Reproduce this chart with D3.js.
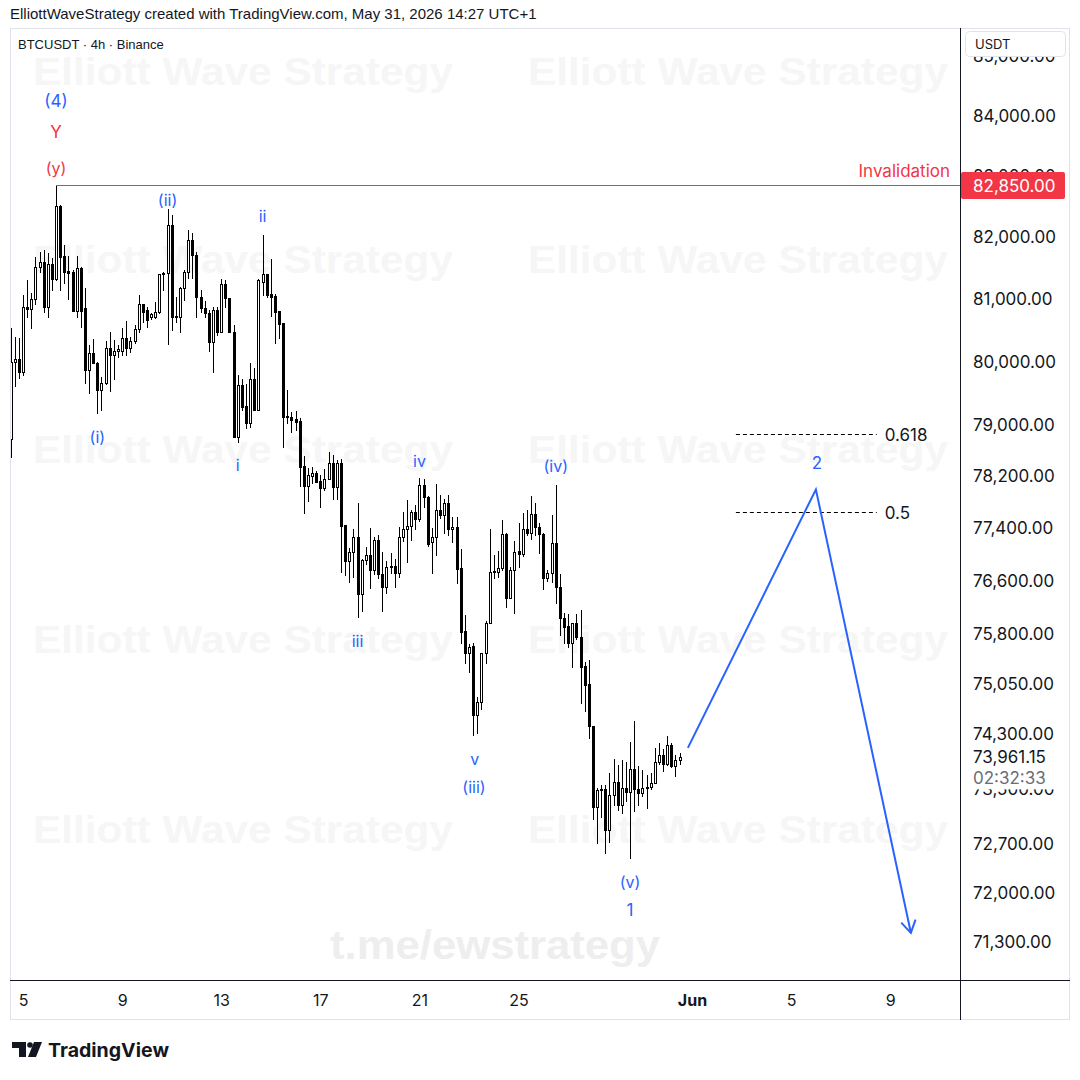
<!DOCTYPE html>
<html><head><meta charset="utf-8">
<script src="https://cdn.jsdelivr.net/npm/d3@7"></script>
<style>
html,body{margin:0;padding:0;background:#fff;}
svg{display:block;font-family:Inter,"Liberation Sans",Arial,sans-serif;}
</style></head><body>
<svg id="chart" width="1080" height="1080"></svg>
<script>
// ---------------- DATA ----------------
const firstCandle = Date.UTC(2026, 4, 4, 12); // May 4 12:00, 4h candles
const opens = [78780,80000,80040,79845,80872,80840,81000,81517,81603,80882,81566,81333,82514,81700,81460,81440,80818,81500,80860,79872,
80137,79988,79556,79662,80217,80110,80180,80180,80377,80217,80334,80520,80925,80830,80722,80722,80802,81404,81420,82203,
80722,80722,81178,81446,81958,81716,81042,80856,80776,80322,80830,80482,81247,81016,80482,78811,79635,79300,79040,79725,
79240,81284,81409,81081,81050,80813,80616,79145,79125,79098,79070,78364,78058,78212,78250,78130,78018,78161,78406,78033,
78406,77451,76905,77043,77263,76394,76916,76992,76763,77221,76697,76500,76825,76825,76713,77263,77385,77435,77655,77540,
78069,77879,77186,77263,77683,77606,77786,77385,77415,76790,75840,75514,75614,74586,74774,75505,75965,76730,76730,76790,
77313,76343,76763,77054,77008,77385,77333,77622,77425,77308,76646,76713,77171,76500,76031,75915,75664,75955,75744,75315,
75045,74423,73233,73484,73494,72904,73411,73597,73262,73509,73460,73787,73494,73436,73509,73523,73582,73900,73998,73861,
74143,73837,73920];
const highs = [80540,80400,80377,81070,81312,81097,81688,81769,81790,81743,81663,82850,82530,81877,81700,81473,81700,81517,81178,80270,
80360,80000,79757,80334,80482,80350,80270,80537,80653,80400,80590,81070,80925,80872,80786,80962,81404,81446,82460,82367,
81042,81194,81473,82121,82067,81769,81150,80978,80830,80882,80882,81323,81312,81016,80590,79793,79730,79650,79988,79900,
81323,82039,81409,81646,81085,80813,80616,79556,79213,79230,79109,78520,78328,78353,78290,78223,78312,78577,78530,78452,
78468,77451,77095,77385,77795,76926,77119,77400,77272,77298,77043,76905,77018,76931,77415,77655,77836,77683,77760,78172,
78156,77900,77400,78084,77915,77848,77915,77580,77570,77080,76081,75644,75654,74857,75514,75995,77385,76992,77058,77524,
77324,76805,77200,77477,77640,77683,77900,77786,77477,77333,76763,77606,78069,76697,76116,76096,75965,76090,76157,75380,
75400,74423,73508,73557,73557,73727,73932,73845,73925,73900,74192,74502,73841,73778,73704,73737,74096,74169,74080,74275,
74169,73993,74018];
const lows = [78500,79610,79740,79793,80722,80537,80925,81446,80802,80722,81150,81312,81150,81258,81000,80818,80722,80562,79662,79504,
79988,79186,79240,79650,79545,79722,80083,80110,80110,80163,80297,80482,80642,80562,80680,80696,80776,81150,80281,80510,
80642,80468,80990,81340,81340,80722,80802,80722,80180,79845,80430,80482,80882,80482,78811,78743,79240,78950,78977,79240,
79240,81070,81040,80733,80307,80377,78655,79040,78900,78925,78058,77632,77826,78104,78120,77725,77992,78156,77848,77854,
76728,76687,76585,76662,76046,76137,76855,76485,76702,76637,76137,76410,76713,76510,76662,77210,76890,77221,77385,77518,
77734,77130,76713,76992,77555,77324,77298,77195,76570,75664,75355,75230,74290,74315,74670,75364,75965,76637,76662,76763,
76200,76343,76107,76815,76977,77298,77240,77298,77020,76470,76600,76585,76267,75779,75664,75604,75305,75714,74760,74650,
74240,73059,72719,73088,72575,72733,73262,73189,73145,73328,72503,73183,73262,73397,73218,73494,73582,73870,73767,73847,
73820,73685,73870];
const closes = [80000,80040,79845,80872,80840,81000,81517,81603,80882,81566,81333,82514,81688,81446,81430,80818,81500,80818,79872,80137,
79988,79556,79662,80217,80110,80174,80200,80377,80217,80334,80520,80925,80802,80670,80760,80802,81404,81420,82203,80722,
80738,81178,81446,81958,81716,81042,80856,80776,80322,80830,80482,81247,81016,80482,78811,79635,79292,79040,79725,79240,
81312,81409,81070,81042,80802,80605,79134,79125,79082,79055,78353,78058,78223,78250,78120,78018,78161,78406,78033,78406,
77442,76905,77043,77263,76394,76916,76992,76763,77221,76697,76500,76805,76805,76713,77263,77385,77435,77655,77540,78069,
77879,77160,77263,77683,77606,77786,77385,77415,76774,75829,75514,75604,74586,74774,75505,75965,76728,76745,76790,77313,
76343,76763,77043,77008,77385,77333,77622,77425,77308,76646,76713,77171,76500,76031,75904,75664,75955,75744,75305,75030,
74423,73233,73484,73494,72904,73411,73597,73262,73509,73460,73787,73494,73436,73509,73523,73582,73900,73998,73861,74143,
73837,73920,73961.15];

const priceTicks = [85000,84000,83000,82000,81000,80000,79000,78200,77400,76600,75800,75050,74300,73500,72700,72000,71300];
const dateTicks = [Date.UTC(2026,4,5),Date.UTC(2026,4,9),Date.UTC(2026,4,13),Date.UTC(2026,4,17),Date.UTC(2026,4,21),
                   Date.UTC(2026,4,25),Date.UTC(2026,5,1),Date.UTC(2026,5,5),Date.UTC(2026,5,9)];
const dateTickLabels = ["5","9","13","17","21","25","Jun","5","9"];

const invalidationPrice = 82850;
const lastPrice = 73961.15;
const countdown = "02:32:33";

// wave labels: text, candle index, price anchor
const waveText  = ["(4)","Y","(y)","(ii)","ii","(i)","i","iv","(iv)","iii","v","(iii)","(v)","1"];
const waveIdx   = [11,11,11,38,61,21,55,99,132,84,112.4,112.2,150,150];
const wavePrice = [84250,83734,83138,82611,82349,78816,78380,78442,78365,75688,73937,73527,72153,71754];
const waveRed   = [false,true,true,false,false,false,false,false,false,false,false,false,false,false];

// projected path (wave 2 up, then down)
const projDates  = [Date.UTC(2026,4,31,20), Date.UTC(2026,5,6,0), Date.UTC(2026,5,9,20)];
const projPrices = [74100, 78000, 71430];
const wave2Label = {text:"2", price:78411};

// fib levels
const fibNames  = ["0.618","0.5"];
const fibPrices = [78862, 77653];
const fibStart = Date.UTC(2026,5,2,18,30), fibEnd = Date.UTC(2026,5,8,11);

// ---------------- DRAW ----------------
const svg = d3.select("#chart");
const BLUE = "#2962ff", RED = "#f23645", INK = "#131722";
const plotL = 10, plotR = 960, plotT = 28, plotB = 980;

const x = d3.scaleUtc().domain([Date.UTC(2026,4,5), Date.UTC(2026,5,1)]).range([23, 692]);
const y = d3.scaleLog().domain([71300, 84000]).range([942, 116]);
const H4 = 4*3600*1000;
const dateOf = i => new Date(firstCandle + i*H4);

svg.append("rect").attr("width",1080).attr("height",1080).attr("fill","#fff");

// header
svg.append("text").attr("x",10).attr("y",13).attr("dominant-baseline","central")
  .attr("font-size",15).attr("fill",INK).attr("font-family","'Liberation Sans',Arial,sans-serif")
  .text("ElliottWaveStrategy created with TradingView.com, May 31, 2026 14:27 UTC+1");

// frame
svg.append("rect").attr("x",10.5).attr("y",28.5).attr("width",1059).attr("height",991)
  .attr("fill","none").attr("stroke","#e0e3eb");

// watermarks
const wmRows = [72,260,450,640,830];
const wmCols = [243,738];
const wm = svg.append("g");
wmRows.forEach(r => wmCols.forEach(c => {
  wm.append("text").attr("x",c).attr("y",r).attr("text-anchor","middle").attr("dominant-baseline","central")
    .attr("font-size",38).attr("font-weight",700).attr("fill","#f6f6f6")
    .attr("textLength",420).attr("lengthAdjust","spacingAndGlyphs")
    .attr("font-family","'Liberation Sans',Arial,sans-serif")
    .text("Elliott Wave Strategy");
}));
wm.append("text").attr("x",495).attr("y",945).attr("text-anchor","middle").attr("dominant-baseline","central")
  .attr("font-size",40).attr("font-weight",700).attr("fill","#eeeeee")
  .attr("textLength",330).attr("lengthAdjust","spacingAndGlyphs")
  .attr("font-family","'Liberation Sans',Arial,sans-serif")
  .text("t.me/ewstrategy");

svg.append("text").attr("x",18).attr("y",44).attr("dominant-baseline","central")
  .attr("font-size",13).attr("fill",INK).attr("font-family","'Liberation Sans',Arial,sans-serif")
  .text("BTCUSDT · 4h · Binance");

// clip
svg.append("clipPath").attr("id","plotclip").append("rect")
  .attr("x",plotL+1).attr("y",plotT+1).attr("width",plotR-plotL-1).attr("height",plotB-plotT-1);
const plot = svg.append("g").attr("clip-path","url(#plotclip)");

// candles
const candles = plot.append("g");
opens.forEach((o,i) => {
  const c = closes[i], h = highs[i], l = lows[i];
  const cx = Math.round(x(dateOf(i)));
  const up = c >= o;
  const top = Math.round(y(Math.max(o,c))), bot = Math.round(y(Math.min(o,c)));
  candles.append("line").attr("x1",cx+0.5).attr("x2",cx+0.5)
    .attr("y1",Math.round(y(h))).attr("y2",Math.round(y(l))+1)
    .attr("stroke","#000").attr("stroke-width",1);
  if (up) {
    const hh = Math.max(bot-top,1);
    candles.append("rect").attr("x",cx-0.5).attr("y",top+0.5).attr("width",2).attr("height",hh)
      .attr("fill","#fff").attr("stroke","#000").attr("stroke-width",1);
  } else {
    candles.append("rect").attr("x",cx-1).attr("y",top).attr("width",3).attr("height",Math.max(bot-top+1,1))
      .attr("fill","#000");
  }
});

// invalidation line (drawn over candles)
const invY = Math.round(y(invalidationPrice));
plot.append("rect").attr("x",Math.round(x(dateOf(11)))).attr("y",invY).attr("width",plotR-Math.round(x(dateOf(11))))
  .attr("height",1).attr("fill",RED).attr("shape-rendering","crispEdges");
plot.append("text").attr("x",950).attr("y",y(invalidationPrice)-14).attr("text-anchor","end")
  .attr("dominant-baseline","central").attr("font-size",17).attr("fill",RED).text("Invalidation");

// fib lines
fibPrices.forEach((p,i) => {
  const yy = Math.round(y(p))+0.5;
  plot.append("line").attr("x1",x(fibStart)).attr("x2",x(fibEnd)).attr("y1",yy).attr("y2",yy)
    .attr("stroke","#000").attr("stroke-width",1).attr("stroke-dasharray","4,3");
  plot.append("text").attr("x",x(fibEnd)+8).attr("y",yy).attr("dominant-baseline","central")
    .attr("font-size",17).attr("fill",INK).text(fibNames[i]);
});

// projection
const projPts = projDates.map((d,i) => [x(d), y(projPrices[i])]);
plot.append("path").attr("d", d3.line()(projPts)).attr("fill","none")
  .attr("stroke",BLUE).attr("stroke-width",2).attr("stroke-linejoin","miter");
{
  const [px,py] = projPts[2], [qx,qy] = projPts[1];
  const ang = Math.atan2(py-qy, px-qx);
  const L = 14, spread = 0.55;
  const a1 = [px - L*Math.cos(ang-spread), py - L*Math.sin(ang-spread)];
  const a2 = [px - L*Math.cos(ang+spread), py - L*Math.sin(ang+spread)];
  plot.append("path").attr("d", d3.line()([a1,[px,py],a2])).attr("fill","none")
    .attr("stroke",BLUE).attr("stroke-width",2);
}
plot.append("text").attr("x",projPts[1][0]+1).attr("y",y(wave2Label.price)).attr("text-anchor","middle")
  .attr("dominant-baseline","central").attr("font-size",17).attr("fill",BLUE).text(wave2Label.text);

// wave labels
waveText.forEach((t,i) => {
  plot.append("text").attr("x",x(dateOf(waveIdx[i]))).attr("y",y(wavePrice[i]))
    .attr("text-anchor","middle").attr("dominant-baseline","central")
    .attr("font-size", t==="(4)"||t==="1"||t==="Y" ? 17 : 16)
    .attr("fill", waveRed[i] ? RED : BLUE).text(t);
});

// axes lines
svg.append("line").attr("x1",plotR+0.5).attr("x2",plotR+0.5).attr("y1",plotT).attr("y2",1020)
  .attr("stroke",INK).attr("stroke-width",1);
svg.append("line").attr("x1",plotL).attr("x2",1070).attr("y1",plotB+0.5).attr("y2",plotB+0.5)
  .attr("stroke",INK).attr("stroke-width",1);

// y axis
const yAxis = d3.axisRight(y).tickValues(priceTicks).tickSize(0).tickPadding(13)
  .tickFormat(d3.format(",.2f"));
const gy = svg.append("g").attr("transform",`translate(${plotR},0)`).call(yAxis);
gy.select(".domain").remove();
gy.selectAll("text").attr("font-size",17).attr("fill",INK).attr("font-family","Inter,'Liberation Sans',sans-serif");

// x axis
const xAxis = d3.axisBottom(x).tickValues(dateTicks.map(d=>new Date(d))).tickSize(0).tickPadding(0)
  .tickFormat((d,i)=>dateTickLabels[i]);
const gx = svg.append("g").attr("transform",`translate(0,${plotB})`).call(xAxis);
gx.select(".domain").remove();
gx.selectAll("text").attr("font-size",16).attr("fill",INK).attr("dy",null).attr("y",20)
  .attr("dominant-baseline","central").attr("font-family","Inter,'Liberation Sans',sans-serif")
  .attr("font-weight",(d,i)=>dateTickLabels[i]==="Jun"?700:400);

// USDT box (covers top label)
svg.append("rect").attr("x",965.5).attr("y",31.5).attr("width",100).attr("height",25).attr("rx",4)
  .attr("fill","#fff").attr("stroke","#e0e3eb");
svg.append("text").attr("x",975).attr("y",44).attr("dominant-baseline","central")
  .attr("font-size",13).attr("fill",INK).text("USDT");

// invalidation tag
svg.append("rect").attr("x",plotR+1).attr("y",invY-13).attr("width",104).attr("height",27)
  .attr("rx",2).attr("fill",RED);
svg.append("text").attr("x",973).attr("y",y(invalidationPrice)+0.5).attr("dominant-baseline","central")
  .attr("font-size",17).attr("fill","#fff").attr("font-family","Inter,'Liberation Sans',sans-serif")
  .text(d3.format(",.2f")(invalidationPrice));

// last price label
const ly = y(lastPrice);
svg.append("rect").attr("x",plotR+1).attr("y",ly-11).attr("width",108).attr("height",43).attr("fill","#fff");
svg.append("text").attr("x",973).attr("y",ly).attr("dominant-baseline","central")
  .attr("font-size",17).attr("fill",INK).attr("font-family","Inter,'Liberation Sans',sans-serif")
  .text(d3.format(",.2f")(lastPrice));
svg.append("text").attr("x",973).attr("y",ly+21).attr("dominant-baseline","central")
  .attr("font-size",17).attr("fill","#6a6d78").attr("font-family","Inter,'Liberation Sans',sans-serif")
  .text(countdown);

// TradingView logo
const logo = svg.append("g").attr("fill",INK);
logo.append("path").attr("d","M12,1042 H26 V1057 H19 V1048 H12 Z");
logo.append("circle").attr("cx",30).attr("cy",1045).attr("r",2.8);
logo.append("path").attr("d","M34,1042 H42 L36,1057 H28 Z");
svg.append("text").attr("x",48).attr("y",1050).attr("dominant-baseline","central")
  .attr("font-size",19).attr("font-weight",700).attr("fill",INK)
  .attr("textLength",121).attr("lengthAdjust","spacingAndGlyphs").text("TradingView");
</script>
</body></html>
